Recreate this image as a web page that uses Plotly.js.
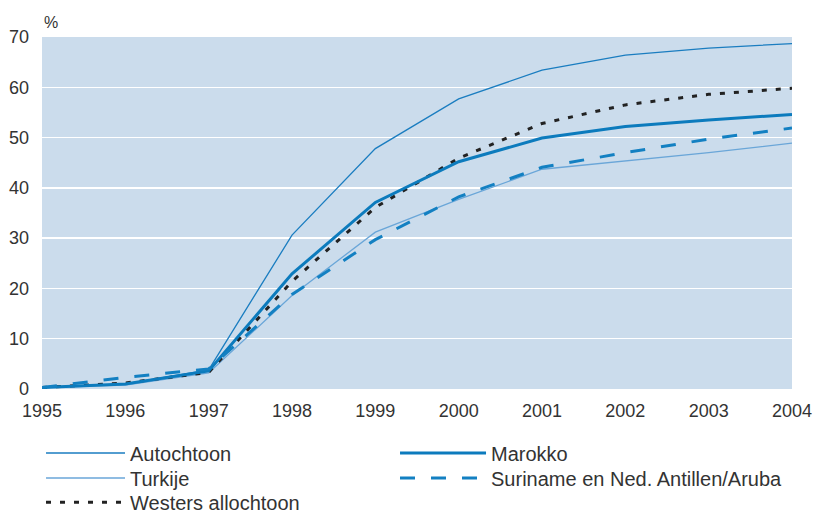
<!DOCTYPE html>
<html><head><meta charset="utf-8">
<script src="https://cdn.plot.ly/plotly-3.0.1.min.js"></script>
<style>body{margin:0;background:#fff}</style>
</head><body><div id="chart" style="width:814px;height:513px"></div>
<script>
var years = [1995,1996,1997,1998,1999,2000,2001,2002,2003,2004];
var autochtoon = [0.3,1.0,3.8,30.6,47.8,57.7,63.4,66.4,67.8,68.7];
var marokko    = [0.3,1.0,3.6,22.9,37.1,45.2,49.9,52.2,53.5,54.6];
var turkije    = [0.3,0.8,3.2,18.6,31.2,37.7,43.7,45.3,47.0,48.9];
var suriname   = [0.3,2.3,4.0,18.8,29.7,38.2,44.1,47.0,49.7,51.9];
var westers    = [0.3,1.2,3.3,21.4,36.1,45.9,52.8,56.5,58.6,59.8];
var yTicks = [0,10,20,30,40,50,60,70];

var tickFont = {family:'"Liberation Sans", Arial, sans-serif', size:18, color:'#333'};
var legFont = {family:'"Liberation Sans", Arial, sans-serif', size:20, color:'#333'};

var traces = [
 {x:years,y:autochtoon,name:'Autochtoon',mode:'lines',line:{color:'#1a7dc0',width:1.3},legend:'legend'},
 {x:years,y:turkije,name:'Turkije',mode:'lines',line:{color:'#6aa6d8',width:1.3},legend:'legend2'},
 {x:years,y:westers,name:'Westers allochtoon',mode:'lines',line:{color:'#222',width:3,dash:'5px,9px'},legend:'legend3'},
 {x:years,y:marokko,name:'Marokko',mode:'lines',line:{color:'#0c7bbd',width:3},legend:'legend4'},
 {x:years,y:suriname,name:'Suriname en Ned. Antillen/Aruba',mode:'lines',line:{color:'#1380c2',width:3,dash:'15px,16px'},legend:'legend5'}
];
function leg(x,y,iw){return {x:x,y:y,xanchor:'left',yanchor:'middle',orientation:'v',font:legFont,bgcolor:'rgba(0,0,0,0)',itemwidth:iw,maxheight:300};}
var layout = {
 width:814,height:513,
 margin:{l:42,r:22,t:37,b:124,autoexpand:false},
 paper_bgcolor:'#fff',plot_bgcolor:'#cbdcec',
 showlegend:true,
 xaxis:{range:[1995,2004],tickvals:years,ticktext:years.map(String),showgrid:false,zeroline:false,showline:false,ticks:'',tickfont:tickFont,automargin:false,ticklabelstandoff:9},
 yaxis:{range:[0,70],tickvals:yTicks,showgrid:true,gridcolor:'#fff',gridwidth:1.5,zeroline:false,showline:false,ticks:'',tickfont:tickFont,automargin:false,ticklabelstandoff:12},
 legend:leg(-0.0013,-0.1818,79),
 legend2:leg(-0.0013,-0.2528,79),
 legend3:leg(-0.0013,-0.3218,79),
 legend4:leg(0.4707,-0.1818,86),
 legend5:leg(0.4707,-0.2528,86),
 annotations:[{text:'%',xref:'paper',yref:'paper',x:0,y:1,xanchor:'left',yanchor:'bottom',yshift:4,showarrow:false,font:{family:'"Liberation Sans", Arial, sans-serif',size:16,color:'#333'}}]
};
Plotly.newPlot('chart',traces,layout,{displayModeBar:false,staticPlot:true});
</script></body></html>
